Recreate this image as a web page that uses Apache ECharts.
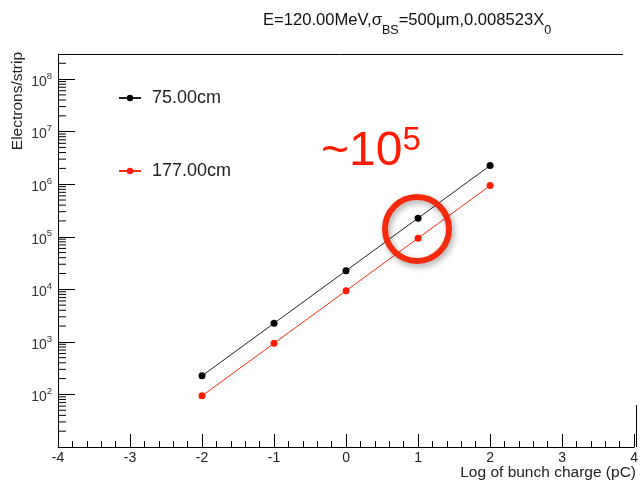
<!DOCTYPE html>
<html>
<head>
<meta charset="utf-8">
<script src="https://cdn.jsdelivr.net/npm/echarts@6/dist/echarts.min.js"></script>
<style>
html, body { margin: 0; padding: 0; background: #fff; }
#chart { width: 641px; height: 482px; }
</style>
</head>
<body>
<div id="chart"></div>
<script>
// log of bunch charge (pC)
const charge = [-2, -1, 0, 1, 2];
// electrons/strip for the two distances
const elec75 = [226, 2260, 22600, 226000, 2260000];
const elec177 = [94, 940, 9400, 94000, 940000];
const seriesNames = ['75.00cm', '177.00cm'];
const xRange = [-4, 4];
const yRange = [10, 3e8];
// log axis minor ticks (2..9 in each decade)
const decades = [10, 100, 1e3, 1e4, 1e5, 1e6, 1e7, 1e8];
const minorSteps = [2, 3, 4, 5, 6, 7, 8, 9];

const minorVals = [];
decades.forEach(d => {
  minorSteps.forEach(m => {
    if (m * d < yRange[1]) minorVals.push([xRange[0], m * d]);
  });
});

const font = 'Liberation Sans, Arial, Helvetica, sans-serif';
const chart = echarts.init(document.getElementById('chart'));

chart.setOption({
  animation: false,
  title: {
    left: 258,
    top: 7,
    text: '{a|E=120.00MeV,σ}{s|BS}{a|=500μm,0.008523X}{s|0}',
    textStyle: {
      fontWeight: 'normal',
      rich: {
        a: { fontFamily: font, fontSize: 16.6, fontWeight: 'normal', color: '#111', verticalAlign: 'top', lineHeight: 20 },
        s: { fontFamily: font, fontSize: 12.5, fontWeight: 'normal', color: '#111', verticalAlign: 'top', lineHeight: 14, padding: [12, 0, 0, 0] }
      }
    }
  },
  legend: {
    orient: 'vertical',
    left: 118,
    top: 89,
    padding: 0,
    itemWidth: 22,
    itemHeight: 8,
    itemGap: 55,
    data: seriesNames,
    textStyle: { fontFamily: font, fontSize: 18, color: '#222', padding: [0, 0, 0, 6] }
  },
  grid: { left: 58, right: 4, top: 54, bottom: 35 },
  xAxis: {
    type: 'value',
    min: xRange[0],
    max: xRange[1],
    interval: 1,
    axisLine: { lineStyle: { color: '#000', width: 1 } },
    axisTick: { inside: true, length: 13, lineStyle: { color: '#000' } },
    minorTick: { show: true, splitNumber: 5, length: 6, lineStyle: { color: '#000' } },
    splitLine: { show: false },
    axisLabel: { fontFamily: font, fontSize: 14, color: '#222', margin: 4 }
  },
  yAxis: {
    type: 'log',
    logBase: 10,
    min: yRange[0],
    max: yRange[1],
    interval: 1,
    axisLine: { show: true, onZero: false, lineStyle: { color: '#000', width: 1 } },
    axisTick: { show: true, inside: true, length: 17, lineStyle: { color: '#000' } },
    splitLine: { show: false },
    axisLabel: {
      showMinLabel: false,
      showMaxLabel: false,
      margin: 6,
      formatter: v => '{b|10}{e|' + Math.round(Math.log10(v)) + '}',
      rich: {
        b: { fontFamily: font, fontSize: 14, color: '#333', verticalAlign: 'top', lineHeight: 16, padding: [4, 0, 0, 0] },
        e: { fontFamily: font, fontSize: 9.5, color: '#333', verticalAlign: 'top', lineHeight: 11 }
      }
    }
  },
  series: [
    {
      name: seriesNames[0],
      type: 'line',
      data: charge.map((x, i) => [x, elec75[i]]),
      symbol: 'circle',
      symbolSize: 7,
      itemStyle: { color: '#000' },
      lineStyle: { color: '#222', width: 1 },
      z: 3
    },
    {
      name: seriesNames[1],
      type: 'line',
      data: charge.map((x, i) => [x, elec177[i]]),
      symbol: 'circle',
      symbolSize: 7,
      itemStyle: { color: '#ff1a00' },
      lineStyle: { color: '#ff2a10', width: 1 },
      z: 3
    },
    {
      type: 'custom',
      silent: true,
      data: minorVals,
      renderItem: (params, api) => {
        const p = api.coord([api.value(0), api.value(1)]);
        return {
          type: 'line',
          shape: { x1: p[0], y1: p[1], x2: p[0] + 8, y2: p[1] },
          style: { stroke: '#000', lineWidth: 1 }
        };
      }
    }
  ],
  graphic: [
    // frame pieces seen at top and right
    { type: 'line', shape: { x1: 58, y1: 54.5, x2: 623, y2: 54.5 }, style: { stroke: '#000', lineWidth: 1 } },
    { type: 'line', shape: { x1: 636.5, y1: 405, x2: 636.5, y2: 447 }, style: { stroke: '#000', lineWidth: 1 } },
    {
      type: 'text', x: 18, y: 52, rotation: Math.PI / 2,
      style: { text: 'Electrons/strip', font: '15.5px ' + font, fill: '#222', align: 'right', verticalAlign: 'middle' }
    },
    {
      type: 'text', x: 636, y: 473,
      style: { text: 'Log of bunch charge (pC)', font: '15.5px ' + font, fill: '#222', align: 'right', verticalAlign: 'middle' }
    },
    {
      type: 'text', x: 321, y: 124,
      style: {
        text: '{a|~10}{b|5}',
        rich: {
          a: { fontFamily: font, fontSize: 48, fill: '#ff1a00', verticalAlign: 'top', padding: [4, 0, 0, 0] },
          b: { fontFamily: font, fontSize: 33, fill: '#ff1a00', verticalAlign: 'top' }
        }
      }
    },
    {
      type: 'circle', shape: { cx: 417, cy: 229, r: 32 },
      style: { fill: 'none', stroke: '#f52a0c', lineWidth: 6, shadowBlur: 6, shadowColor: 'rgba(0,0,0,0.35)', shadowOffsetX: 2, shadowOffsetY: 3 },
      z: 10
    }
  ]
});
</script>
</body>
</html>
